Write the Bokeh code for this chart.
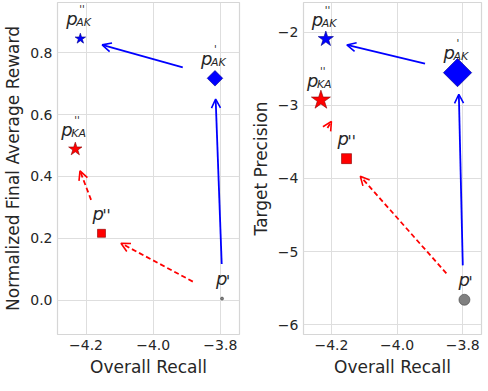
import math
from bokeh.plotting import figure
from bokeh.models import (ColumnDataSource, Arrow, OpenHead, FixedTicker,
                          CustomJSTickFormatter, Range1d)
from bokeh.layouts import row
from bokeh.core.properties import value
from bokeh.embed import file_html
from bokeh.resources import INLINE

# ---------------- data ----------------
point_names = ["p''_AK", "p'_AK", "p''_KA", "p''", "p'"]
overall_recall = [-4.217, -3.816, -4.232, -4.154, -3.795]
final_reward = [0.845, 0.717, 0.488, 0.216, 0.005]
target_precision = [-2.095, -2.554, -2.93, -3.73, -5.66]
label_sup = ["''", "'", "''", "''", "'"]
label_sub = ["AK", "AK", "KA", "", ""]
point_colors = ["#0000ff", "#0000ff", "#ff0000", "#ff0000", "#808080"]
edge_colors = ["#00008b", "#00008b", "#8b0000", "#8b0000", "#404040"]
markers = ["star", "square", "star", "square", "circle"]

# arrows (start -> end) in data space
reward_blue_x0 = [-3.796, -3.912]
reward_blue_y0 = [0.117, 0.752]
reward_blue_x1 = [-3.814, -4.152]
reward_blue_y1 = [0.650, 0.825]
reward_red_x0 = [-3.882, -4.185]
reward_red_y0 = [0.060, 0.324]
reward_red_x1 = [-4.096, -4.218]
reward_red_y1 = [0.184, 0.418]

prec_blue_x0 = [-3.800, -3.915]
prec_blue_y0 = [-5.19, -2.43]
prec_blue_x1 = [-3.812, -4.153]
prec_blue_y1 = [-2.85, -2.176]
prec_red_x0 = [-3.850, -4.212]
prec_red_y0 = [-5.30, -3.31]
prec_red_x1 = [-4.112, -4.200]
prec_red_y1 = [-3.97, -3.22]

recall_ticks = [-4.2, -4.0, -3.8]
reward_ticks = [0.0, 0.2, 0.4, 0.6, 0.8]
precision_ticks = [-6, -5, -4, -3, -2]

FONT = "DejaVu Sans"
TXT = "#262626"


def fmt(dec):
    return CustomJSTickFormatter(
        code="return (tick < 0 ? '\\u2212' : '') + Math.abs(tick).toFixed(%d);" % dec)


def make_fig(yvals, ylabel, yrange, yticks, ydec, sizes, arrows, fw):
    p = figure(frame_width=fw, frame_height=332, output_backend="svg",
               toolbar_location=None,
               x_range=Range1d(-4.285, -3.743), y_range=Range1d(*yrange),
               min_border_top=2, min_border_right=4, min_border_left=4,
               min_border_bottom=4, background_fill_color="white",
               border_fill_color="white")
    p.outline_line_color = "#d6d6d6"
    p.outline_line_width = 1.2
    for ax in (p.xaxis[0], p.yaxis[0]):
        ax.axis_line_color = None
        ax.major_tick_line_color = None
        ax.minor_tick_line_color = None
        ax.major_tick_out = 0
        ax.major_tick_in = 0
        ax.major_label_text_font = FONT
        ax.major_label_text_font_size = "14px"
        ax.major_label_text_color = TXT
        ax.axis_label_text_font = FONT
        ax.axis_label_text_font_size = "17px"
        ax.axis_label_text_font_style = "normal"
        ax.axis_label_text_color = TXT
        ax.major_label_standoff = 5
        ax.axis_label_standoff = 4
    p.xaxis.axis_label = "Overall Recall"
    p.yaxis.axis_label = ylabel
    p.xaxis.ticker = FixedTicker(ticks=recall_ticks)
    p.yaxis.ticker = FixedTicker(ticks=yticks)
    p.xaxis.formatter = fmt(1)
    p.yaxis.formatter = fmt(ydec)
    p.grid.grid_line_color = "#dedede"
    p.grid.grid_line_width = 1

    # arrows
    (bx0, by0, bx1, by1), (rx0, ry0, rx1, ry1) = arrows
    bsrc = ColumnDataSource(dict(x0=bx0, y0=by0, x1=bx1, y1=by1))
    rsrc = ColumnDataSource(dict(x0=rx0, y0=ry0, x1=rx1, y1=ry1))
    p.add_layout(Arrow(end=OpenHead(size=9, line_color="#0000ff", line_width=1.6),
                       x_start="x0", y_start="y0", x_end="x1", y_end="y1",
                       source=bsrc, line_color="#0000ff", line_width=1.8))
    p.add_layout(Arrow(end=OpenHead(size=9, line_color="#ff0000", line_width=1.6),
                       x_start="x0", y_start="y0", x_end="x1", y_end="y1",
                       source=rsrc, line_color="#ff0000", line_width=1.8,
                       line_dash="5 3"))

    angles = [0, math.pi / 4, 0, 0, 0]
    src = ColumnDataSource(dict(x=overall_recall, y=yvals, m=markers, s=sizes,
                                a=angles, c=point_colors, e=edge_colors))
    p.scatter("x", "y", marker="m", size="s", angle="a", fill_color="c",
              line_color="e", line_width=0.6, source=src)

    # labels
    for i in range(len(point_names)):
        xs, ys = [overall_recall[i]], [yvals[i]]
        if label_sub[i]:
            p.text(xs, ys, text=["p"], x_offset=-14, y_offset=-20,
                   text_font=value(FONT), text_font_style="italic",
                   text_font_size="18px", text_color=TXT,
                   text_baseline="alphabetic", text_align="left")
            p.text(xs, ys, text=[label_sub[i]], x_offset=-4, y_offset=-16,
                   text_font=value(FONT), text_font_style="italic",
                   text_font_size="11px", text_color=TXT,
                   text_baseline="alphabetic", text_align="left")
            p.text(xs, ys, text=[label_sup[i]], x_offset=-1, y_offset=-29,
                   text_font=value(FONT), text_font_style="italic",
                   text_font_size="10px", text_color=TXT,
                   text_baseline="alphabetic", text_align="left")
        else:
            dx = -9 if len(label_sup[i]) == 2 else -6
            p.text(xs, ys, text=["p"], x_offset=dx, y_offset=-20,
                   text_font=value(FONT), text_font_style="italic",
                   text_font_size="18px", text_color=TXT,
                   text_baseline="alphabetic", text_align="left")
            p.text(xs, ys, text=[label_sup[i]], x_offset=dx + 10, y_offset=-17,
                   text_font=value(FONT), text_font_style="italic",
                   text_font_size="15px", text_color=TXT,
                   text_baseline="alphabetic", text_align="left")
    return p


p1 = make_fig(final_reward, "Normalized Final Average Reward", (-0.111, 0.962),
              reward_ticks, 1, [11, 11, 14, 8, 3],
              ((reward_blue_x0, reward_blue_y0, reward_blue_x1, reward_blue_y1),
               (reward_red_x0, reward_red_y0, reward_red_x1, reward_red_y1)), 182)
p1.min_border_right = 8
p2 = make_fig(target_precision, "Target Precision", (-6.135, -1.595),
              precision_ticks, 0, [16, 20, 20, 10, 11],
              ((prec_blue_x0, prec_blue_y0, prec_blue_x1, prec_blue_y1),
               (prec_red_x0, prec_red_y0, prec_red_x1, prec_red_y1)), 178)
p2.min_border_right = 2

layout = row(p1, p2)
open("out.html", "w", encoding="utf-8").write(file_html(layout, INLINE))
